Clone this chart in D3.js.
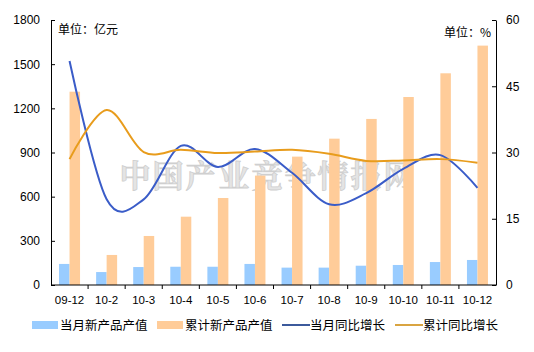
<!DOCTYPE html>
<html>
<head>
<meta charset="utf-8">
<script src="https://cdn.jsdelivr.net/npm/d3@7"></script>
<style>
  body { margin: 0; background: #fff; }
  text { font-family: "Liberation Sans", Arial, sans-serif; }
  .cn { font-family: "Noto Sans CJK SC", sans-serif; }
</style>
</head>
<body>
<div id="chart"></div>
<script>
// data
var months = ["09-12", "10-2", "10-3", "10-4", "10-5", "10-6", "10-7", "10-8", "10-9", "10-10", "10-11", "10-12"];
var monthValue = [143, 88, 122, 124, 124, 143, 118, 118, 131, 136, 156, 170];
var cumValue = [1313, 204, 333, 464, 591, 743, 872, 994, 1128, 1277, 1438, 1626];
var monthGrowth = [50.7, 19.4, 19.4, 31.5, 26.7, 30.8, 25.4, 18.3, 20.8, 26.3, 29.4, 22.0];
var cumGrowth = [28.5, 39.6, 30.1, 30.6, 29.9, 30.2, 30.6, 29.7, 28.1, 28.2, 28.5, 27.7];
var leftTicks = [0, 300, 600, 900, 1200, 1500, 1800];
var rightTicks = [0, 15, 30, 45, 60];
var legendNames = ["当月新产品产值", "累计新产品产值", "当月同比增长", "累计同比增长"];

var width = 534, height = 352;
var plot = {left: 51, right: 496, top: 20, bottom: 285};

var colBlueBar = "#99ccff", colOrangeBar = "#ffcc99",
    colBlueLine = "#3a5cc8", colOrangeLine = "#e89c1c";

var svg = d3.select("#chart")
  .append("svg")
  .attr("width", width)
  .attr("height", height);

var x = d3.scaleBand()
  .domain(months)
  .range([plot.left, plot.right]);

var yL = d3.scaleLinear()
  .domain([0, 1800])
  .range([plot.bottom, plot.top]);

var yR = d3.scaleLinear()
  .domain([0, 60])
  .range([plot.bottom, plot.top]);

// watermark
svg.append("text")
  .attr("class", "cn")
  .attr("x", 268)
  .attr("y", 187)
  .attr("text-anchor", "middle")
  .style("font-family", "'Noto Serif CJK SC', 'Noto Sans CJK SC', serif")
  .style("font-size", "31px")
  .style("font-weight", "bold")
  .style("letter-spacing", "2px")
  .attr("fill", "#e4e4e4")
  .attr("stroke", "#cfcfcf")
  .attr("stroke-width", 0.8)
  .text("中国产业竞争情报网");

var barW = 10.5;

// bars
svg.append("g")
  .selectAll("rect")
  .data(monthValue)
  .enter()
  .append("rect")
  .attr("x", function(d, i) { return x(months[i]) + x.bandwidth() / 2 - barW; })
  .attr("y", function(d) { return yL(d); })
  .attr("width", barW)
  .attr("height", function(d) { return yL(0) - yL(d); })
  .attr("fill", colBlueBar);

svg.append("g")
  .selectAll("rect")
  .data(cumValue)
  .enter()
  .append("rect")
  .attr("x", function(d, i) { return x(months[i]) + x.bandwidth() / 2; })
  .attr("y", function(d) { return yL(d); })
  .attr("width", barW)
  .attr("height", function(d) { return yL(0) - yL(d); })
  .attr("fill", colOrangeBar);

// lines
var line = d3.line()
  .x(function(d, i) { return x(months[i]) + x.bandwidth() / 2; })
  .y(function(d) { return yR(d); })
  .curve(d3.curveCatmullRom.alpha(0));

svg.append("path")
  .datum(monthGrowth)
  .attr("fill", "none")
  .attr("stroke", colBlueLine)
  .attr("stroke-width", 2)
  .attr("d", line);

svg.append("path")
  .datum(cumGrowth)
  .attr("fill", "none")
  .attr("stroke", colOrangeLine)
  .attr("stroke-width", 2)
  .attr("d", line);

// axes
var axL = svg.append("g")
  .attr("transform", "translate(" + plot.left + ",0)")
  .call(d3.axisLeft(yL).tickValues(leftTicks).tickFormat(d3.format("d"))
    .tickSizeInner(-4).tickSizeOuter(0).tickPadding(11));

var axR = svg.append("g")
  .attr("transform", "translate(" + plot.right + ",0)")
  .call(d3.axisRight(yR).tickValues(rightTicks).tickFormat(d3.format("d"))
    .tickSizeInner(-4).tickSizeOuter(0).tickPadding(10));

var axB = svg.append("g")
  .attr("transform", "translate(0," + plot.bottom + ")")
  .call(d3.axisBottom(x).tickSize(0).tickPadding(11));

// category boundary ticks
axB.selectAll(".bnd")
  .data(months.slice(1))
  .enter()
  .append("line")
  .attr("class", "bnd")
  .attr("x1", function(d) { return x(d); })
  .attr("x2", function(d) { return x(d); })
  .attr("y1", 0)
  .attr("y2", 4)
  .attr("stroke", "#000");

[axL, axR, axB].forEach(function(a) {
  a.select(".domain").attr("stroke", "#000");
  a.selectAll(".tick line").attr("stroke", "#000");
  a.selectAll("text").style("font-size", "12px").attr("fill", "#000")
    .style("font-family", "'Liberation Sans', Arial, sans-serif");
});
axB.selectAll("text").style("font-size", "11.5px");
axB.select(".domain").attr("d", "M" + plot.left + ",0H" + plot.right);

// unit labels
svg.append("text")
  .attr("class", "cn")
  .attr("x", 58)
  .attr("y", 34)
  .style("font-size", "12px")
  .text("单位：亿元");

svg.append("text")
  .attr("class", "cn")
  .attr("x", 491)
  .attr("y", 37)
  .attr("text-anchor", "end")
  .style("font-size", "12px")
  .text("单位：%");

// legend
var legX = [32, 157, 282, 395];
var leg = svg.append("g");
legendNames.forEach(function(name, i) {
  var g = leg.append("g").attr("transform", "translate(" + legX[i] + ",325)");
  if (i < 2) {
    g.append("rect")
      .attr("x", 0).attr("y", -4)
      .attr("width", 26).attr("height", 8)
      .attr("fill", i == 0 ? colBlueBar : colOrangeBar);
  } else {
    g.append("line")
      .attr("x1", 0).attr("x2", 28)
      .attr("y1", 0).attr("y2", 0)
      .attr("stroke", i == 2 ? "#3c5a9c" : "#d9a441")
      .attr("stroke-width", 2);
  }
  g.append("text")
    .attr("class", "cn")
    .attr("x", 28)
    .attr("y", 5)
    .style("font-size", "12.5px")
    .text(name);
});
</script>
</body>
</html>
